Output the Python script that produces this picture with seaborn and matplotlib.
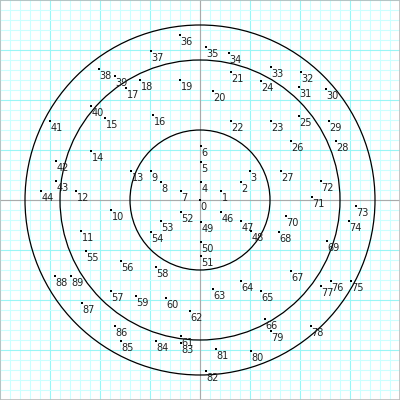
import matplotlib
matplotlib.use("Agg")
import matplotlib.pyplot as plt
from matplotlib.patches import Circle
import seaborn as sns
import pandas as pd

# point numbers and positions (origin at centre, y up)
labels = [0, 1, 2, 3, 4, 5, 6, 7, 8, 9,
          10, 11, 12, 13, 14, 15, 16, 17, 18, 19,
          20, 21, 22, 23, 24, 25, 26, 27, 28, 29,
          30, 31, 32, 33, 34, 35, 36, 37, 38, 39,
          40, 41, 42, 43, 44, 46, 47, 48, 49,
          50, 51, 52, 53, 54, 55, 56, 57, 58, 59,
          60, 61, 62, 63, 64, 65, 66, 67, 68, 69,
          70, 71, 72, 73, 74, 75, 76, 77, 78, 79,
          80, 81, 82, 83, 84, 85, 86, 87, 88, 89]
x = [0, 21, 41, 50, 1, 1, 1, -19, -39, -49,
     -89, -119, -124, -69, -109, -95, -47, -74, -60, -20,
     13, 31, 31, 71, 61, 99, 91, 81, 136, 129,
     126, 99, 101, 71, 29, 6, -20, -49, -101, -85,
     -109, -150, -144, -144, -159, 21, 41, 51, 1,
     1, 1, -19, -39, -49, -114, -79, -89, -44, -64,
     -34, -19, -10, 13, 41, 61, 65, 91, 79, 127,
     86, 112, 121, 156, 149, 151, 131, 121, 111, 71,
     51, 16, 6, -19, -44, -79, -85, -118, -145, -129]
y = [0, 9, 18, 29, 18, 38, 54, 9, 18, 29,
     -10, -31, 9, 29, 49, 82, 85, 112, 120, 120,
     109, 128, 79, 79, 119, 84, 59, 29, 59, 79,
     111, 113, 128, 133, 147, 153, 165, 149, 131, 124,
     94, 79, 39, 19, 9, -12, -21, -31, -22,
     -42, -56, -12, -21, -32, -51, -61, -91, -67, -96,
     -98, -136, -111, -89, -81, -91, -119, -71, -32, -41,
     -16, 3, 19, -6, -21, -81, -81, -86, -126, -131,
     -151, -149, -171, -143, -141, -141, -126, -103, -76, -76]

radii = [70, 140, 175]

df = pd.DataFrame({"x": x, "y": y, "label": labels})

fig = plt.figure(figsize=(4, 4), dpi=100)
ax = fig.add_axes([0, 0, 1, 1])

sns.scatterplot(data=df, x="x", y="y", ax=ax, color="black",
                marker="s", s=0.6, linewidth=0, zorder=4)

for _, row in df.iterrows():
    ax.text(row["x"] + 0.5, row["y"] - 2, str(row["label"]),
            fontsize=7, ha="left", va="top", color="#222222", zorder=5)

for r in radii:
    ax.add_patch(Circle((0, 0), r, fill=False, edgecolor="black",
                        linewidth=0.9, zorder=3))

ax.set_xlim(-200, 200)
ax.set_ylim(-200, 200)
ax.set_xticks(range(-200, 201, 50))
ax.set_yticks(range(-200, 201, 50))
ax.set_xticks(range(-200, 201, 10), minor=True)
ax.set_yticks(range(-200, 201, 10), minor=True)
ax.grid(which="minor", color="#ccffff", linewidth=0.8, zorder=0)
ax.grid(which="major", color="#99f5f5", linewidth=0.8, zorder=1)
ax.set_axisbelow(True)
ax.tick_params(which="both", length=0, labelbottom=False, labelleft=False)
ax.set_xlabel("")
ax.set_ylabel("")

ax.axhline(0, color="#aaaaaa", linewidth=0.8, zorder=2)
ax.axvline(0, color="#aaaaaa", linewidth=0.8, zorder=2)

for s in ax.spines.values():
    s.set_color("#bbbbbb")
    s.set_linewidth(1.2)

fig.savefig("out.png", dpi=100)
